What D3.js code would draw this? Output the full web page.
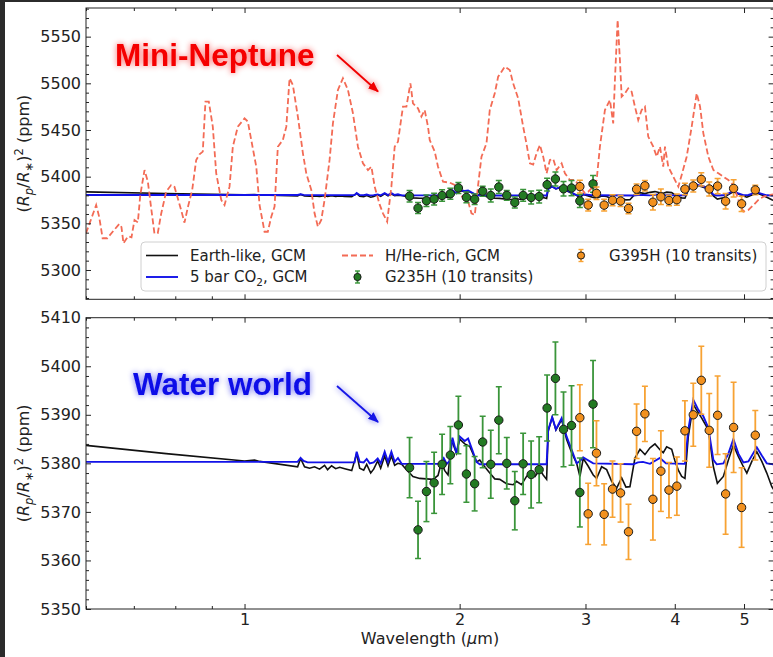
<!DOCTYPE html>
<html>
<head>
<meta charset="utf-8">
<script src="https://cdnjs.cloudflare.com/ajax/libs/d3/7.8.5/d3.min.js"></script>
<style>
  body { margin: 0; background: #fff; }
  svg text { font-family: "DejaVu Sans", sans-serif; fill: #222; }
</style>
</head>
<body>
<svg id="chart" width="773" height="657"></svg>
<script>
// ---- model spectra (wavelength in um, transit depth in ppm) ----
const earthWave = [0.600, 0.7768, 1.000, 1.0328, 1.0496, 1.1865, 1.198, 1.2134, 1.2331, 1.2531, 1.2735, 1.2942, 1.3068, 1.3239, 1.3412, 1.3588, 1.3811, 1.4126, 1.4352, 1.4492, 1.4681, 1.4823, 1.5016, 1.5161, 1.5358, 1.5507, 1.5708, 1.5876, 1.6051, 1.6222, 1.6395, 1.6592, 1.6848, 1.7207, 1.7583, 1.8354, 1.8653, 1.8861, 1.9062, 1.9265, 1.9479, 1.9796, 2.0007, 2.0332, 2.0663, 2.1115, 2.1339, 2.1572, 2.2039, 2.2397, 2.2760, 2.3258, 2.3763, 2.4022, 2.4413, 2.4810, 2.5132, 2.5488, 2.5902, 2.6178, 2.6469, 2.6604, 2.6949, 2.7273, 2.7780, 2.8232, 2.8693, 2.9158, 2.9469, 2.9784, 3.0268, 3.0758, 3.1097, 3.1603, 3.2116, 3.2637, 3.3168, 3.3707, 3.4176, 3.4620, 3.5182, 3.5757, 3.6335, 3.6929, 3.7527, 3.8136, 3.8542, 3.8970, 3.9604, 4.0026, 4.0461, 4.0901, 4.1334, 4.1778, 4.2462, 4.3158, 4.3627, 4.4572, 4.5297, 4.5884, 4.6782, 4.7542, 4.8315, 4.9101, 4.9899, 5.0454, 5.1276, 5.2100, 5.2947, 5.3807, 5.4683, 5.5065];
const earthDepth = [5383.7, 5382.0, 5380.5, 5380.7, 5380.4, 5379.3, 5381.0, 5379.3, 5379.0, 5379.3, 5378.8, 5379.6, 5378.7, 5379.5, 5378.9, 5379.2, 5378.9, 5378.5, 5382.0, 5379.0, 5378.6, 5379.8, 5378.0, 5378.8, 5380.5, 5379.0, 5381.5, 5379.5, 5381.5, 5379.6, 5380.0, 5379.8, 5378.7, 5377.3, 5376.9, 5376.7, 5377.5, 5380.2, 5378.5, 5377.6, 5384.8, 5382.1, 5385.0, 5384.0, 5383.5, 5380.3, 5380.7, 5379.7, 5378.0, 5376.8, 5376.7, 5375.8, 5375.6, 5376.3, 5375.6, 5377.3, 5378.1, 5377.3, 5378.7, 5377.6, 5376.7, 5386.6, 5389.5, 5386.9, 5389.0, 5384.9, 5382.2, 5380.0, 5377.3, 5381.0, 5379.4, 5377.6, 5376.9, 5379.3, 5378.7, 5376.3, 5374.9, 5377.0, 5375.1, 5375.2, 5381.1, 5382.9, 5381.8, 5383.2, 5384.0, 5382.8, 5382.2, 5383.4, 5382.9, 5380.5, 5378.6, 5377.3, 5376.9, 5385.5, 5392.1, 5390.4, 5389.3, 5386.9, 5379.3, 5375.9, 5377.3, 5380.7, 5383.8, 5381.4, 5379.3, 5378.0, 5380.4, 5382.4, 5380.4, 5378.0, 5375.2, 5374.5];

const co2Wave = [0.600, 1.000, 1.1865, 1.198, 1.2096, 1.2253, 1.4258, 1.4352, 1.4492, 1.4681, 1.4823, 1.4967, 1.5161, 1.5358, 1.5507, 1.5708, 1.5876, 1.6051, 1.6222, 1.6395, 1.6592, 1.8756, 1.9000, 1.9185, 1.9372, 1.9542, 1.9796, 2.0007, 2.0332, 2.0553, 2.0863, 2.1115, 2.1339, 2.6469, 2.6604, 2.6949, 2.7273, 2.7780, 2.8232, 2.8693, 2.9158, 2.9469, 2.9784, 3.0758, 3.4986, 3.5524, 3.6104, 3.6929, 3.8136, 3.8882, 4.1334, 4.1778, 4.2462, 4.3158, 4.3859, 4.4572, 4.5297, 4.5791, 4.6782, 4.7542, 4.8315, 4.9101, 4.9899, 5.0710, 5.2100, 5.2947, 5.3807, 5.5065];
const co2Depth = [5380.3, 5380.3, 5380.3, 5381.1, 5380.5, 5380.2, 5380.2, 5382.4, 5380.3, 5380.2, 5380.9, 5380.0, 5380.2, 5381.0, 5380.0, 5382.4, 5380.3, 5382.4, 5380.3, 5381.1, 5379.9, 5379.9, 5381.1, 5379.9, 5380.5, 5385.3, 5382.1, 5385.5, 5384.6, 5385.1, 5382.5, 5380.3, 5379.8, 5379.8, 5386.9, 5389.5, 5387.0, 5389.3, 5385.5, 5382.8, 5380.0, 5380.5, 5381.2, 5380.0, 5379.8, 5380.2, 5380.3, 5379.9, 5381.1, 5380.0, 5379.9, 5386.9, 5393.1, 5391.0, 5389.7, 5387.3, 5380.7, 5379.8, 5380.0, 5382.0, 5385.0, 5382.0, 5380.2, 5380.4, 5383.3, 5381.6, 5380.0, 5379.8];

const hheWave = [0.600, 0.620, 0.626, 0.633, 0.6427, 0.657, 0.668, 0.6726, 0.677, 0.687, 0.6947, 0.7015, 0.7091, 0.7146, 0.7245, 0.7323, 0.7403, 0.748, 0.7561, 0.7643, 0.7768, 0.7894, 0.798, 0.8152, 0.8241, 0.8329, 0.8448, 0.8558, 0.865, 0.8741, 0.8817, 0.8913, 0.9028, 0.9128, 0.9277, 0.9376, 0.9528, 0.963, 0.9786, 1.000, 1.0107, 1.0219, 1.0385, 1.0496, 1.0666, 1.0779, 1.090, 1.1016, 1.1133, 1.1314, 1.1441, 1.1561, 1.1685, 1.1875, 1.207, 1.2201, 1.240, 1.2531, 1.2667, 1.2805, 1.2942, 1.3152, 1.3295, 1.3511, 1.3731, 1.3954, 1.4181, 1.4411, 1.4646, 1.4884, 1.5049, 1.521, 1.5457, 1.5622, 1.5834, 1.6051, 1.6222, 1.6395, 1.6661, 1.6848, 1.7065, 1.7207, 1.7487, 1.7681, 1.787, 1.806, 1.816, 1.8456, 1.8653, 1.8957, 1.9372, 1.9687, 2.0007, 2.0332, 2.0553, 2.0777, 2.0998, 2.1227, 2.1458, 2.1807, 2.2039, 2.2397, 2.2641, 2.2887, 2.3131, 2.3507, 2.3763, 2.4149, 2.4542, 2.481, 2.5079, 2.5346, 2.5623, 2.5902, 2.6178, 2.6469, 2.6751, 2.7036, 2.7336, 2.778, 2.8076, 2.8533, 2.8997, 2.9469, 2.9948, 3.0268, 3.0758, 3.1097, 3.1428, 3.1939, 3.2458, 3.2804, 3.2986, 3.3275, 3.3521, 3.3707, 3.4066, 3.4429, 3.481, 3.5182, 3.5557, 3.5952, 3.6335, 3.6722, 3.732, 3.7734, 3.8136, 3.8542, 3.8756, 3.9168, 3.9805, 4.0461, 4.0901, 4.1566, 4.2243, 4.293, 4.3397, 4.3859, 4.4572, 4.5297, 4.6033, 4.6782, 4.7542, 4.8315, 4.9101, 4.9899, 5.071, 5.1535, 5.2365, 5.3216, 5.438, 5.5065];
const hheDepth = [5339.3, 5369.6, 5357.0, 5334.0, 5334.0, 5342.9, 5349.3, 5346.0, 5328.6, 5336.0, 5335.0, 5353.6, 5351.0, 5380.0, 5407.1, 5394.6, 5366.0, 5339.3, 5339.5, 5360.0, 5383.9, 5391.0, 5389.0, 5364.3, 5350.7, 5367.0, 5385.7, 5417.9, 5424.0, 5426.8, 5480.4, 5480.4, 5453.6, 5403.6, 5375.0, 5369.6, 5389.3, 5432.1, 5453.6, 5462.5, 5459.0, 5439.3, 5410.7, 5369.6, 5341.0, 5341.0, 5357.1, 5367.9, 5432.1, 5439.3, 5453.6, 5505.4, 5498.2, 5464.3, 5425.0, 5403.6, 5385.7, 5360.7, 5346.4, 5353.6, 5375.0, 5417.9, 5457.1, 5492.9, 5505.4, 5492.9, 5467.9, 5432.1, 5414.3, 5407.1, 5410.7, 5389.3, 5370.0, 5360.7, 5351.8, 5389.3, 5432.1, 5437.5, 5475.0, 5475.0, 5500.0, 5478.6, 5473.2, 5464.3, 5471.4, 5453.6, 5439.3, 5426.8, 5410.7, 5394.6, 5393.6, 5391.0, 5382.1, 5375.0, 5373.5, 5360.7, 5358.9, 5391.1, 5421.4, 5435.7, 5471.4, 5489.3, 5507.1, 5512.5, 5517.9, 5514.3, 5500.0, 5483.9, 5453.6, 5435.0, 5414.3, 5413.0, 5425.0, 5433.9, 5421.4, 5403.6, 5417.9, 5419.0, 5407.1, 5414.3, 5403.6, 5396.4, 5396.4, 5389.3, 5382.1, 5383.9, 5389.3, 5396.4, 5432.1, 5471.4, 5482.1, 5457.1, 5503.6, 5567.9, 5525.0, 5485.7, 5489.3, 5494.6, 5491.0, 5475.0, 5460.7, 5471.4, 5475.0, 5442.9, 5432.1, 5421.4, 5432.1, 5410.7, 5432.1, 5410.7, 5400.0, 5389.3, 5401.8, 5421.4, 5453.6, 5489.3, 5475.0, 5446.4, 5421.4, 5407.1, 5403.6, 5400.0, 5396.4, 5391.1, 5375.0, 5362.5, 5364.3, 5369.6, 5375.0, 5378.6, 5380.4, 5381.0];

// ---- simulated observations ----
const g235Wave = [1.702, 1.749, 1.797, 1.842, 1.890, 1.941, 1.992, 2.044, 2.099, 2.154, 2.211, 2.269, 2.328, 2.389, 2.454, 2.518, 2.584, 2.651, 2.723, 2.795, 2.868, 2.946, 3.074];
const g235Depth = [5379.1, 5366.3, 5374.2, 5376.0, 5379.8, 5381.7, 5387.9, 5377.8, 5375.8, 5384.4, 5379.8, 5388.9, 5380.0, 5372.3, 5379.9, 5377.7, 5378.7, 5391.4, 5397.5, 5387.0, 5387.8, 5374.0, 5392.2];
const g235Err = [6.2, 5.9, 6.2, 6.3, 6.2, 5.9, 5.9, 5.8, 5.6, 5.3, 7.0, 6.9, 5.3, 6.0, 6.3, 6.9, 6.8, 6.8, 7.5, 7.7, 8.2, 7.1, 9.0];

const g395Wave = [2.946, 3.026, 3.108, 3.186, 3.273, 3.359, 3.446, 3.537, 3.633, 3.728, 3.825, 3.926, 4.027, 4.133, 4.246, 4.357, 4.470, 4.592, 4.712, 4.835, 4.961, 5.185];
const g395Depth = [5389.4, 5369.6, 5382.1, 5369.5, 5374.7, 5373.9, 5365.9, 5386.6, 5390.2, 5372.6, 5378.4, 5374.5, 5375.3, 5386.7, 5390.0, 5397.1, 5386.8, 5389.9, 5373.7, 5387.4, 5370.9, 5385.8];
const g395Err = [6.8, 6.3, 6.7, 6.3, 5.8, 6.0, 5.7, 5.6, 5.7, 8.4, 8.3, 5.7, 6.0, 6.2, 6.5, 7.0, 7.6, 8.1, 8.3, 9.3, 8.2, 5.1];

// ---- axes ----
const xDomain = [0.6, 5.5];
const xTickLabels = [1, 2, 3, 4, 5];
const xMinorTicks = [0.6, 0.7, 0.8, 0.9];
const topDomain = [5268.6, 5580.7];
const topTicks = [5300, 5350, 5400, 5450, 5500, 5550];
const bottomDomain = [5350, 5410];
const bottomTicks = [5350, 5360, 5370, 5380, 5390, 5400, 5410];

const svg = d3.select("#chart");

svg.append("rect").attr("width", 773).attr("height", 657).attr("fill", "#fff");
// dark frame of the screenshot
svg.append("rect").attr("x", 0).attr("y", 0).attr("width", 773).attr("height", 2).attr("fill", "#2b2b2b");
svg.append("rect").attr("x", 0).attr("y", 0).attr("width", 5).attr("height", 657).attr("fill", "#2b2b2b");

const defs = svg.append("defs");

function glow(id, opacity) {
    let f = defs.append("filter").attr("id", id)
        .attr("x", "-20%").attr("y", "-60%").attr("width", "140%").attr("height", "220%");
    f.append("feGaussianBlur").attr("in", "SourceGraphic").attr("stdDeviation", 3.4).attr("result", "blur");
    f.append("feComponentTransfer").attr("in", "blur").attr("result", "soft")
        .append("feFuncA").attr("type", "linear").attr("slope", opacity);
    let m = f.append("feMerge");
    m.append("feMergeNode").attr("in", "soft");
    m.append("feMergeNode").attr("in", "SourceGraphic");
}
glow("glowRed", 0.6);
glow("glowBlue", 0.6);

function arrowHead(id, color) {
    defs.append("marker").attr("id", id)
        .attr("viewBox", "0 0 10 10").attr("refX", 9).attr("refY", 5)
        .attr("markerWidth", 6).attr("markerHeight", 6).attr("orient", "auto")
        .attr("markerUnits", "strokeWidth")
        .append("path").attr("d", "M0,1 L10,5 L0,9 z").attr("fill", color);
}
arrowHead("headRed", "#f00000");
arrowHead("headBlue", "#1515e6");

const left = 86, right = 773.6;
const x = d3.scaleLog().domain(xDomain).range([left, right]);

function drawPanel(top, bottom, domain, majorTicks, minorStep, showXLabels, withHHe, clipId) {
    let y = d3.scaleLinear().domain(domain).range([bottom, top]);
    let g = svg.append("g");

    defs.append("clipPath").attr("id", clipId)
        .append("rect").attr("x", left).attr("y", top).attr("width", right - left).attr("height", bottom - top);

    let plot = g.append("g").attr("clip-path", "url(#" + clipId + ")");

    let line = d3.line().x(d => x(d[0])).y(d => y(d[1]));

    plot.append("path")
        .datum(d3.zip(earthWave, earthDepth))
        .attr("d", line).attr("fill", "none")
        .attr("stroke", "#111").attr("stroke-width", 1.6);

    plot.append("path")
        .datum(d3.zip(co2Wave, co2Depth))
        .attr("d", line).attr("fill", "none")
        .attr("stroke", "#1212e8").attr("stroke-width", 1.9);

    if (withHHe) {
        plot.append("path")
            .datum(d3.zip(hheWave, hheDepth))
            .attr("d", line).attr("fill", "none")
            .attr("stroke", "#f36b55").attr("stroke-width", 1.8)
            .attr("stroke-dasharray", "6,3");
    }

    drawErrorbars(plot, y, g235Wave, g235Depth, g235Err, "#3a953a", "#237a23");
    drawErrorbars(plot, y, g395Wave, g395Depth, g395Err, "#f7a233", "#f2911f");

    // ticks on all four sides, pointing inwards
    let minorY = d3.range(domain[0] - (domain[0] % minorStep) + minorStep, domain[1], minorStep)
        .filter(v => majorTicks.indexOf(v) < 0);

    let yLeft = g.append("g").attr("transform", "translate(" + left + ",0)")
        .call(d3.axisLeft(y).tickValues(majorTicks).tickFormat(d3.format("d"))
            .tickSizeInner(-5).tickSizeOuter(0).tickPadding(5));
    yLeft.selectAll("text").style("font-size", "16px");
    g.append("g").attr("transform", "translate(" + left + ",0)")
        .call(d3.axisLeft(y).tickValues(minorY).tickFormat("").tickSizeInner(-3).tickSizeOuter(0));
    g.append("g").attr("transform", "translate(" + right + ",0)")
        .call(d3.axisRight(y).tickValues(majorTicks).tickFormat("").tickSizeInner(-5).tickSizeOuter(0));
    g.append("g").attr("transform", "translate(" + right + ",0)")
        .call(d3.axisRight(y).tickValues(minorY).tickFormat("").tickSizeInner(-3).tickSizeOuter(0));

    let xb = g.append("g").attr("transform", "translate(0," + bottom + ")")
        .call(d3.axisBottom(x).tickValues(xTickLabels).tickFormat(showXLabels ? d3.format("d") : "")
            .tickSizeInner(-5).tickSizeOuter(0).tickPadding(5));
    xb.selectAll("text").style("font-size", "16px");
    g.append("g").attr("transform", "translate(0," + bottom + ")")
        .call(d3.axisBottom(x).tickValues(xMinorTicks).tickFormat("").tickSizeInner(-3).tickSizeOuter(0));
    g.append("g").attr("transform", "translate(0," + top + ")")
        .call(d3.axisTop(x).tickValues(xTickLabels).tickFormat("").tickSizeInner(-5).tickSizeOuter(0));
    g.append("g").attr("transform", "translate(0," + top + ")")
        .call(d3.axisTop(x).tickValues(xMinorTicks).tickFormat("").tickSizeInner(-3).tickSizeOuter(0));

    g.selectAll(".domain").remove();
    g.selectAll(".tick line").attr("stroke", "#222");

    g.append("rect")
        .attr("x", left).attr("y", top).attr("width", right - left).attr("height", bottom - top)
        .attr("fill", "none").attr("stroke", "#222").attr("stroke-width", 1);

    yLabel((top + bottom) / 2);
    return y;
}

function drawErrorbars(plot, y, wave, depth, err, barColor, fillColor) {
    let pts = d3.zip(wave, depth, err);
    let bars = plot.append("g");
    bars.selectAll("line.bar").data(pts).enter().append("line")
        .attr("x1", d => x(d[0])).attr("x2", d => x(d[0]))
        .attr("y1", d => y(d[1] - d[2])).attr("y2", d => y(d[1] + d[2]))
        .attr("stroke", barColor).attr("stroke-width", 1.8);
    [-1, 1].forEach(function (s) {
        bars.selectAll("line.cap" + s).data(pts).enter().append("line")
            .attr("x1", d => x(d[0]) - 3).attr("x2", d => x(d[0]) + 3)
            .attr("y1", d => y(d[1] + s * d[2])).attr("y2", d => y(d[1] + s * d[2]))
            .attr("stroke", barColor).attr("stroke-width", 1.5);
    });
    bars.selectAll("circle").data(pts).enter().append("circle")
        .attr("cx", d => x(d[0])).attr("cy", d => y(d[1])).attr("r", 4.2)
        .attr("fill", fillColor).attr("stroke", "#1a1a1a").attr("stroke-width", 1);
}

function yLabel(cy) {
    let t = svg.append("text")
        .attr("transform", "translate(29," + cy + ") rotate(-90)")
        .attr("text-anchor", "middle").style("font-size", "16px");
    t.append("tspan").text("(");
    t.append("tspan").style("font-style", "italic").text("R");
    t.append("tspan").style("font-style", "italic").style("font-size", "11.5px").attr("dy", 3.5).text("p");
    t.append("tspan").attr("dy", -3.5).text("/");
    t.append("tspan").style("font-style", "italic").text("R");
    t.append("tspan").style("font-size", "11.5px").attr("dy", 3.5).text("\u2217");
    t.append("tspan").attr("dy", -3.5).text(")");
    t.append("tspan").style("font-size", "11.5px").attr("dy", -6).text("2");
    t.append("tspan").attr("dy", 6).text(" (ppm)");
}

drawPanel(8, 299.3, topDomain, topTicks, 10, false, true, "clipTop");
drawPanel(317.7, 609, bottomDomain, bottomTicks, 2, true, false, "clipBottom");

// x axis label
let xl = svg.append("text").attr("x", 430).attr("y", 644)
    .attr("text-anchor", "middle").style("font-size", "16px");
xl.append("tspan").text("Wavelength (");
xl.append("tspan").style("font-style", "italic").text("\u03bc");
xl.append("tspan").text("m)");

// legend
let lg = svg.append("g");
lg.append("rect").attr("x", 141).attr("y", 242).attr("width", 625).attr("height", 49).attr("rx", 4)
    .attr("fill", "#fff").attr("fill-opacity", 0.85).attr("stroke", "#d0d0d0");
lg.append("line").attr("x1", 146).attr("x2", 178).attr("y1", 255.5).attr("y2", 255.5)
    .attr("stroke", "#111").attr("stroke-width", 1.6);
lg.append("line").attr("x1", 146).attr("x2", 178).attr("y1", 277).attr("y2", 277)
    .attr("stroke", "#1212e8").attr("stroke-width", 1.9);
lg.append("line").attr("x1", 342).attr("x2", 373).attr("y1", 255.5).attr("y2", 255.5)
    .attr("stroke", "#f36b55").attr("stroke-width", 1.8).attr("stroke-dasharray", "6,3");

function legendMarker(cx, cy, barColor, fillColor) {
    lg.append("line").attr("x1", cx).attr("x2", cx).attr("y1", cy - 6).attr("y2", cy + 6)
        .attr("stroke", barColor).attr("stroke-width", 1.8);
    [-6, 6].forEach(function (o) {
        lg.append("line").attr("x1", cx - 2.5).attr("x2", cx + 2.5).attr("y1", cy + o).attr("y2", cy + o)
            .attr("stroke", barColor).attr("stroke-width", 1.4);
    });
    lg.append("circle").attr("cx", cx).attr("cy", cy).attr("r", 3.6)
        .attr("fill", fillColor).attr("stroke", "#1a1a1a").attr("stroke-width", 1);
}
legendMarker(357.5, 277, "#3a953a", "#237a23");
legendMarker(581, 255.5, "#f7a233", "#f2911f");

function legendText(tx, ty, str) {
    return lg.append("text").attr("x", tx).attr("y", ty).attr("dy", "0.35em").style("font-size", "15px").text(str);
}
legendText(190, 255.5, "Earth-like, GCM");
let co2 = legendText(190, 277, "5 bar CO");
co2.append("tspan").style("font-size", "10.5px").attr("dy", 3.5).text("2");
co2.append("tspan").attr("dy", -3.5).text(", GCM");
legendText(385, 255.5, "H/He-rich, GCM");
legendText(385, 277, "G235H (10 transits)");
legendText(609, 255.5, "G395H (10 transits)");

// annotations
let mn = svg.append("g").attr("filter", "url(#glowRed)");
mn.append("text").attr("x", 115).attr("y", 66)
    .style("font-family", "'Liberation Sans', Arial, sans-serif").style("font-weight", "bold")
    .style("font-size", "31.5px").style("fill", "#f50000").text("Mini-Neptune");
mn.append("line").attr("x1", 337).attr("y1", 55).attr("x2", 378).attr("y2", 91.5)
    .attr("stroke", "#f00000").attr("stroke-width", 1.8).attr("marker-end", "url(#headRed)");

let ww = svg.append("g").attr("filter", "url(#glowBlue)");
ww.append("text").attr("x", 133).attr("y", 395)
    .style("font-family", "'Liberation Sans', Arial, sans-serif").style("font-weight", "bold")
    .style("font-size", "31.5px").style("fill", "#0b0be8").text("Water world");
ww.append("line").attr("x1", 337).attr("y1", 386).attr("x2", 378).attr("y2", 422)
    .attr("stroke", "#1515e6").attr("stroke-width", 1.8).attr("marker-end", "url(#headBlue)");
</script>
</body>
</html>
